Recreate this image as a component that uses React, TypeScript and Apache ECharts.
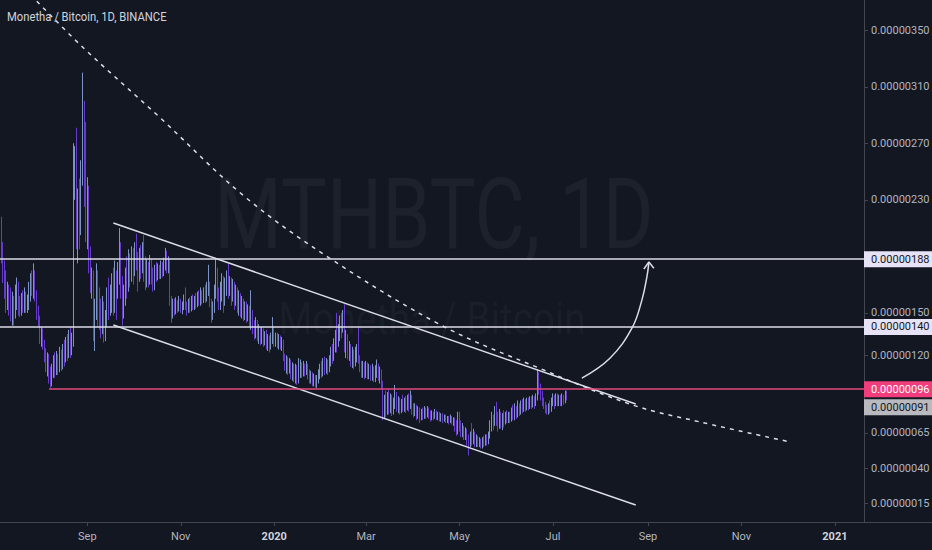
import React, { useEffect, useRef } from 'react';
import * as echarts from 'echarts';

// ---------- texts ----------
const chartTitle = 'Monetha / Bitcoin, 1D, BINANCE';
const watermarkMain = 'MTHBTC, 1D';
const watermarkSub = 'Monetha / Bitcoin';

// ---------- axes ----------
const firstCandleDate = '2019-07-06';
const xRange = ['2019-07-06', '2021-01-20'];
const yRange = [2, 371.4]; // satoshi (1e-8 BTC)
const monthTickDates = ['2019-09-01', '2019-11-01', '2020-01-01', '2020-03-01', '2020-05-01', '2020-07-01', '2020-09-01', '2020-11-01', '2021-01-01'];
const monthTickLabels = ['Sep', 'Nov', '2020', 'Mar', 'May', 'Jul', 'Sep', 'Nov', '2021'];
const priceTicks = [15, 40, 65, 120, 150, 230, 270, 310, 350];

// ---------- daily candles [open, close, low, high] in satoshi ----------
const jul2019 = [
  [200, 215, 190, 224], [215, 195, 185, 218], [195, 178, 171, 200], [178, 170, 160, 187], [170, 160, 150, 180],
  [160, 165, 152, 172], [165, 155, 148, 170], [155, 150, 144, 168], [150, 158, 141, 165], [158, 148, 141, 162],
  [148, 160, 146, 170], [160, 168, 152, 175], [168, 155, 148, 172], [155, 150, 147, 162], [150, 158, 148, 164],
  [158, 152, 150, 166], [152, 160, 150, 168], [160, 154, 150, 165], [154, 158, 150, 163], [158, 165, 152, 172],
  [165, 172, 158, 178], [172, 168, 162, 180], [168, 176, 160, 185], [176, 162, 158, 180], [162, 150, 145, 166],
  [150, 145, 140, 155],
];
const aug2019 = [
  [145, 132, 128, 148], [132, 136, 126, 140], [136, 128, 124, 139], [128, 120, 115, 131], [120, 112, 108, 125],
  [112, 118, 105, 122], [118, 106, 100, 121], [106, 101, 97, 112], [101, 108, 98, 114], [108, 115, 104, 120],
  [115, 110, 104, 122], [110, 118, 106, 123], [118, 112, 106, 121], [112, 120, 108, 126], [120, 114, 109, 124],
  [114, 122, 110, 128], [122, 118, 112, 131], [118, 126, 115, 133], [126, 122, 116, 135], [122, 130, 118, 138],
  [130, 124, 118, 140], [124, 128, 120, 136], [128, 255, 126, 270], [255, 262, 230, 268], [262, 205, 195, 281],
  [205, 230, 185, 238], [230, 212, 195, 245], [212, 250, 205, 258], [250, 288, 240, 320], [288, 240, 225, 300],
  [240, 207, 200, 285],
];
const sep2019 = [
  [207, 230, 195, 246], [230, 190, 178, 240], [190, 170, 164, 197], [170, 178, 160, 182], [178, 140, 130, 180],
  [140, 150, 123, 160], [150, 172, 145, 185], [172, 160, 140, 180], [160, 150, 138, 168], [150, 142, 132, 160],
  [142, 155, 135, 162], [155, 138, 129, 158], [138, 148, 130, 152], [148, 160, 140, 168], [160, 152, 145, 175],
  [152, 165, 148, 170], [165, 170, 150, 178], [170, 160, 148, 182], [160, 175, 150, 187], [175, 165, 145, 180],
  [165, 180, 160, 186], [180, 190, 170, 210], [190, 172, 160, 200], [172, 150, 141, 176], [150, 162, 146, 170],
  [162, 175, 155, 182], [175, 170, 160, 190], [170, 185, 165, 195], [185, 178, 168, 192], [178, 190, 172, 197],
];
const oct2019 = [
  [190, 182, 170, 196], [182, 195, 176, 200], [195, 188, 180, 206], [188, 175, 165, 193], [175, 190, 172, 196],
  [190, 182, 174, 198], [182, 195, 178, 200], [195, 180, 172, 205], [180, 172, 166, 190], [172, 182, 168, 188],
  [182, 175, 168, 186], [175, 185, 170, 191], [185, 176, 170, 188], [176, 168, 165, 182], [168, 178, 166, 184],
  [178, 174, 172, 186], [174, 180, 173, 185], [180, 176, 174, 184], [176, 182, 174, 187], [182, 178, 175, 186],
  [178, 185, 176, 189], [185, 190, 180, 196], [190, 182, 178, 194], [182, 186, 178, 190], [186, 160, 155, 188],
  [160, 150, 143, 162], [150, 156, 146, 160], [156, 152, 148, 160], [152, 157, 149, 161], [157, 153, 150, 159],
  [153, 158, 151, 162],
];
const nov2019 = [
  [158, 154, 150, 160], [154, 156, 149, 158], [156, 160, 152, 163], [160, 155, 152, 168], [155, 152, 148, 158],
  [152, 157, 150, 160], [157, 153, 150, 161], [153, 158, 151, 162], [158, 155, 152, 163], [155, 159, 152, 162],
  [159, 156, 153, 164], [156, 161, 154, 165], [161, 158, 155, 166], [158, 162, 155, 168], [162, 159, 156, 166],
  [159, 164, 157, 168], [164, 160, 157, 170], [160, 166, 158, 172], [166, 170, 162, 184], [170, 158, 154, 172],
  [158, 148, 143, 160], [148, 152, 145, 158], [152, 165, 150, 170], [165, 175, 160, 189], [175, 162, 158, 182],
  [162, 155, 152, 168], [155, 165, 152, 172], [165, 172, 158, 178], [172, 160, 150, 176], [160, 170, 155, 175],
];
const dec2019 = [
  [170, 176, 162, 180], [176, 168, 160, 185], [168, 172, 162, 176], [172, 164, 155, 175], [164, 170, 158, 174],
  [170, 160, 152, 172], [160, 166, 155, 170], [166, 158, 150, 168], [158, 162, 148, 166], [162, 153, 147, 164],
  [153, 158, 146, 162], [158, 150, 144, 160], [150, 155, 145, 158], [155, 148, 143, 158], [148, 152, 144, 156],
  [152, 146, 140, 155], [146, 150, 138, 166], [150, 140, 135, 152], [140, 136, 131, 145], [136, 142, 132, 147],
  [142, 135, 130, 145], [135, 138, 128, 142], [138, 132, 127, 140], [132, 136, 128, 140], [136, 130, 126, 139],
  [130, 134, 127, 137], [134, 128, 124, 138], [128, 132, 123, 135], [132, 127, 122, 134], [127, 133, 124, 136],
  [133, 138, 128, 147],
];
const jan2020 = [
  [138, 130, 126, 140], [130, 133, 126, 136], [133, 128, 125, 136], [128, 132, 124, 135], [132, 127, 124, 134],
  [127, 130, 123, 133], [130, 118, 116, 131], [118, 113, 109, 121], [113, 117, 107, 120], [117, 110, 106, 119],
  [110, 114, 107, 118], [114, 108, 103, 117], [108, 112, 102, 115], [112, 106, 101, 114], [106, 110, 100, 114],
  [110, 104, 99, 113], [104, 108, 100, 118], [108, 112, 104, 117], [112, 107, 104, 115], [107, 111, 105, 116],
  [111, 108, 105, 114], [108, 112, 106, 116], [112, 106, 103, 114], [106, 103, 100, 110], [103, 106, 100, 109],
  [106, 101, 98, 108], [101, 104, 98, 107], [104, 100, 97, 106], [100, 103, 97, 106], [103, 106, 100, 110],
  [106, 110, 103, 114],
];
const feb2020 = [
  [110, 107, 104, 116], [107, 112, 105, 118], [112, 109, 106, 119], [109, 114, 107, 118], [114, 110, 106, 117],
  [110, 116, 108, 120], [116, 122, 112, 126], [122, 118, 114, 128], [118, 126, 116, 132], [126, 132, 122, 138],
  [132, 128, 122, 150], [128, 136, 126, 142], [136, 142, 130, 148], [142, 138, 132, 150], [138, 148, 136, 152],
  [148, 124, 122, 156], [124, 132, 118, 138], [132, 122, 117, 135], [122, 126, 116, 130], [126, 118, 112, 128],
  [118, 122, 111, 126], [122, 116, 110, 124], [116, 120, 112, 126], [120, 124, 115, 128], [124, 118, 114, 140],
  [118, 114, 108, 120], [114, 110, 104, 116], [110, 113, 104, 116], [113, 108, 103, 115],
];
const mar2020 = [
  [108, 112, 104, 116], [112, 107, 103, 115], [107, 111, 103, 114], [111, 106, 102, 113], [106, 110, 102, 114],
  [110, 105, 101, 112], [105, 109, 101, 113], [109, 112, 104, 117], [112, 106, 102, 114], [106, 108, 100, 112],
  [108, 100, 96, 110], [100, 78, 74, 102], [78, 86, 75, 92], [86, 82, 76, 95], [82, 90, 78, 94],
  [90, 84, 78, 96], [84, 88, 79, 93], [88, 82, 77, 92], [82, 87, 78, 90], [87, 92, 82, 99],
  [92, 85, 80, 94], [85, 88, 79, 91], [88, 83, 78, 90], [83, 87, 79, 89], [87, 84, 80, 92],
  [84, 88, 80, 90], [88, 85, 79, 91], [85, 89, 81, 92], [89, 86, 80, 93], [86, 90, 82, 95],
  [90, 84, 78, 92],
];
const apr2020 = [
  [84, 80, 76, 86], [80, 83, 77, 86], [83, 79, 74, 85], [79, 82, 75, 84], [82, 76, 72, 83],
  [76, 80, 74, 82], [80, 77, 74, 83], [77, 81, 75, 84], [81, 78, 75, 83], [78, 82, 76, 84],
  [82, 79, 75, 83], [79, 76, 73, 81], [76, 79, 74, 81], [79, 77, 74, 80], [77, 80, 75, 82],
  [80, 77, 74, 81], [77, 79, 74, 80], [79, 76, 73, 80], [76, 78, 73, 79], [78, 75, 72, 79],
  [75, 77, 73, 78], [77, 74, 72, 78], [74, 76, 72, 77], [76, 74, 71, 77], [74, 76, 72, 78],
  [76, 73, 71, 77], [73, 75, 70, 76], [75, 72, 66, 76], [72, 68, 63, 74], [68, 74, 64, 80],
];
const may2020 = [
  [74, 70, 66, 80], [70, 66, 62, 74], [66, 69, 62, 72], [69, 64, 60, 70], [64, 67, 60, 69],
  [67, 62, 56, 68], [62, 58, 49, 64], [58, 63, 55, 66], [63, 60, 56, 72], [60, 64, 57, 68],
  [64, 58, 55, 66], [58, 61, 55, 64], [61, 58, 55, 63], [58, 60, 55, 62], [60, 57, 54, 61],
  [57, 60, 54, 62], [60, 58, 55, 63], [58, 62, 56, 64], [62, 59, 56, 64], [59, 64, 57, 66],
  [64, 70, 61, 74], [70, 76, 66, 80], [76, 72, 67, 78], [72, 80, 70, 84], [80, 75, 70, 87],
  [75, 70, 66, 80], [70, 78, 68, 82], [78, 72, 68, 80], [72, 76, 67, 79], [76, 73, 69, 81],
  [73, 77, 71, 80],
];
const jun2020 = [
  [77, 74, 72, 81], [74, 78, 72, 80], [78, 75, 72, 80], [75, 80, 73, 83], [80, 76, 74, 85],
  [76, 82, 74, 86], [82, 78, 75, 84], [78, 84, 76, 88], [84, 80, 77, 86], [80, 85, 78, 88],
  [85, 81, 79, 89], [81, 86, 80, 90], [86, 83, 80, 89], [83, 87, 81, 90], [87, 84, 81, 90],
  [84, 88, 82, 91], [88, 85, 82, 91], [85, 89, 83, 92], [89, 86, 82, 91], [86, 90, 84, 93],
  [90, 102, 88, 110], [102, 96, 92, 108], [96, 92, 88, 100], [92, 88, 84, 95], [88, 85, 82, 90],
  [85, 82, 79, 87], [82, 80, 78, 85], [80, 84, 78, 86], [84, 81, 79, 88], [81, 86, 80, 90],
];
const jul2020 = [
  [86, 90, 84, 93], [90, 86, 82, 92], [86, 91, 84, 93], [91, 87, 84, 93], [87, 90, 84, 92],
  [90, 86, 84, 92], [86, 90, 84, 93], [90, 87, 85, 92], [87, 92, 86, 95], [92, 91, 88, 95],
];

// ---------- drawings (date, satoshi) ----------
const resistanceLevels = [188, 140];
const supportLevel = 96;
const supportStart = '2019-08-07';
const lastPrice = 91;
const upperChannel: [string, number][] = [['2019-09-18', 213.6], ['2020-08-24', 85.5]];
const lowerChannel: [string, number][] = [['2019-09-18', 141.4], ['2020-08-24', 14.0]];
const dashedCurve: [string, number][] = [
  ['2019-07-26', 375], ['2019-08-29', 338], ['2019-10-18', 288.6], ['2019-12-13', 232],
  ['2020-02-06', 188.8], ['2020-04-20', 140.7], ['2020-06-22', 110.9], ['2020-08-22', 84.8],
  ['2020-10-05', 72.8], ['2020-12-03', 58.6],
];
const arrowPath: [string, number][] = [
  ['2020-07-19T20:00:00Z', 103.8], ['2020-08-07T03:00:00Z', 117.9], ['2020-08-21T12:00:00Z', 139.2],
  ['2020-08-28T00:00:00Z', 159], ['2020-08-31T06:00:00Z', 175.3], ['2020-09-01T14:00:00Z', 185.6],
];
const arrowHead: [string, number][] = [
  ['2020-08-29T07:00:00Z', 181], ['2020-09-01T14:00:00Z', 186], ['2020-09-04T20:00:00Z', 181.6],
];

// ---------- styles ----------
const BG = '#131722';
const UP = '#88a2d6';
const DOWN = '#7040e0';
const AXIS = '#434651';
const TEXT = '#b2b5be';
const DRAW = '#dcdde8';
const PINK = '#e24a7f';
const FONT = 'Roboto';
const DAY = 86400000;

const fmt = (v: number) => (v / 1e8).toFixed(8);
const t = (s: string) => Date.parse(s);
const pts = (arr: [string, number][]) => arr.map(([d, v]) => [t(d), v]);

export default function App() {
  const ref = useRef<HTMLDivElement>(null);
  useEffect(() => {
    document.body.style.margin = '0';
    if (!ref.current) return;
    const chart = echarts.init(ref.current, null, { renderer: 'svg' });
    const start = t(firstCandleDate);
    const months = [jul2019, aug2019, sep2019, oct2019, nov2019, dec2019, jan2020, feb2020, mar2020, apr2020, may2020, jun2020, jul2020];
    const candles = months.flat().map((c, i) => [start + i * DAY, c[0], c[1], c[2], c[3]]);
    const xMin = t(xRange[0]);
    const xMax = t(xRange[1]);
    const monthTicks = monthTickDates.map(t);

    const box = (value: number, bg: string, fg: string, dy = 0) => ({
      show: true,
      position: 'end',
      distance: 0,
      formatter: fmt(value),
      color: fg,
      backgroundColor: bg,
      padding: [3, 5, 2, 7],
      fontSize: 11,
      fontFamily: FONT,
      offset: [0, dy],
    });

    const drawLine = (data: number[][], style: any, extra: any = {}) => ({
      type: 'line',
      data,
      symbol: 'none',
      showSymbol: false,
      silent: true,
      z: 3,
      lineStyle: style,
      emphasis: { disabled: true },
      ...extra,
    });

    chart.setOption({
      animation: false,
      backgroundColor: BG,
      textStyle: { fontFamily: FONT },
      grid: { left: 0, right: 68, top: 0, bottom: 28, containLabel: false, outerBoundsMode: 'none' },
      xAxis: {
        type: 'value',
        min: xMin,
        max: xMax,
        axisLine: { show: true, lineStyle: { color: AXIS, width: 1 } },
        axisTick: { show: true, customValues: monthTicks, length: 4, lineStyle: { color: AXIS } },
        splitLine: { show: false },
        axisLabel: {
          customValues: monthTicks,
          color: TEXT,
          fontSize: 11,
          fontFamily: FONT,
          margin: 9,
          formatter: (v: number) => {
            const k = monthTicks.findIndex((m) => Math.abs(m - v) < DAY);
            const s = k >= 0 ? monthTickLabels[k] : '';
            return /^\d{4}$/.test(s) ? `{y|${s}}` : s;
          },
          rich: { y: { fontWeight: 'bold', color: '#d1d4dc', fontSize: 11, fontFamily: FONT } },
        },
      },
      yAxis: {
        type: 'value',
        position: 'right',
        min: yRange[0],
        max: yRange[1],
        axisLine: { show: true, lineStyle: { color: AXIS, width: 1 } },
        axisTick: { show: true, customValues: priceTicks, length: 4, lineStyle: { color: AXIS } },
        splitLine: { show: false },
        axisLabel: {
          customValues: priceTicks,
          color: TEXT,
          fontSize: 11,
          fontFamily: FONT,
          margin: 7,
          formatter: (v: number) => fmt(v),
        },
      },
      graphic: [
        {
          type: 'text', x: 434, y: 215, scaleX: 0.79, silent: true, z: 0,
          style: { text: watermarkMain, fontSize: 98, fontFamily: FONT, fill: 'rgba(255,255,255,0.045)', align: 'center', verticalAlign: 'middle' },
        },
        {
          type: 'text', x: 432, y: 318, scaleX: 0.86, silent: true, z: 0,
          style: { text: watermarkSub, fontSize: 45, fontFamily: FONT, fill: 'rgba(255,255,255,0.045)', align: 'center', verticalAlign: 'middle' },
        },
        {
          type: 'text', x: 7, y: 17, scaleX: 0.9, silent: true, z: 5,
          style: { text: chartTitle, fontSize: 12.5, fontFamily: FONT, fill: '#d1d4dc', align: 'left', verticalAlign: 'middle' },
        },
        {
          type: 'line', silent: true, z: 1,
          shape: { x1: 864, y1: 522.5, x2: 932, y2: 522.5 },
          style: { stroke: AXIS, lineWidth: 1 },
        },
      ],
      series: [
        {
          type: 'candlestick',
          data: candles,
          barWidth: 1.1,
          z: 2,
          silent: true,
          itemStyle: { color: UP, color0: DOWN, borderColor: UP, borderColor0: DOWN, borderWidth: 0.9 },
          markLine: {
            symbol: ['none', 'none'],
            silent: true,
            animation: false,
            emphasis: { disabled: true },
            data: [
              ...resistanceLevels.map((lv) => ({
                yAxis: lv,
                lineStyle: { color: DRAW, width: 1.5, type: 'solid' },
                label: box(lv, '#e6e3f7', '#131722'),
              })),
              [
                {
                  coord: [t(supportStart), supportLevel],
                  lineStyle: { color: PINK, width: 1.5, type: 'solid' },
                  label: box(supportLevel, '#f23d7d', '#ffffff'),
                },
                { coord: [xMax, supportLevel] },
              ],
              [
                {
                  coord: [xMax - 5 * DAY, lastPrice],
                  lineStyle: { color: 'rgba(0,0,0,0)', width: 1, type: 'solid' },
                  label: box(lastPrice, '#b9babf', '#131722', 11),
                },
                { coord: [xMax, lastPrice] },
              ],
            ],
          },
        },
        drawLine(pts(upperChannel), { color: DRAW, width: 1.5 }),
        drawLine(pts(lowerChannel), { color: DRAW, width: 1.5 }),
        drawLine(pts(dashedCurve), { color: DRAW, width: 1.5, type: [4, 5] }, { smooth: 0.35 }),
        drawLine(pts(arrowPath), { color: DRAW, width: 1.5 }, { smooth: 0.4 }),
        drawLine(pts(arrowHead), { color: DRAW, width: 1.5 }),
      ],
    });
    return () => chart.dispose();
  }, []);

  return (
    <div
      ref={ref}
      style={{ position: 'absolute', left: 0, top: 0, width: 932, height: 550, background: BG }}
    />
  );
}
